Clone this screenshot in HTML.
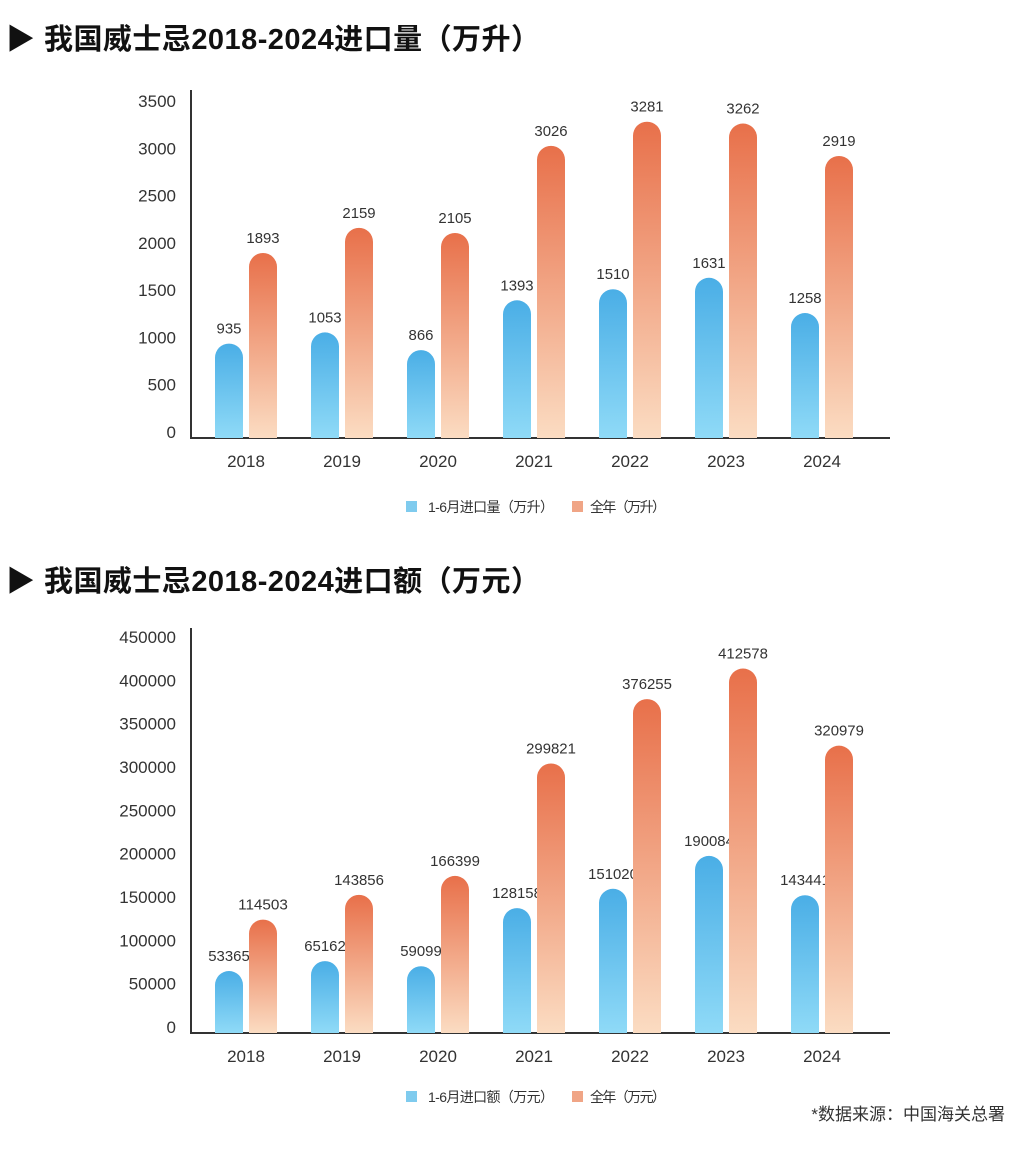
<!DOCTYPE html>
<html><head><meta charset="utf-8">
<style>
body{margin:0;width:1031px;height:1149px;background:#fff;overflow:hidden;font-family:"Liberation Sans","Noto Sans CJK SC",sans-serif;}
svg{position:absolute;left:0;top:0}
</style></head>
<body>
<svg id="s" width="1031" height="1149">
<defs>
<linearGradient id="gb" x1="0" y1="0" x2="0" y2="1"><stop offset="0" stop-color="#4aaee6"/><stop offset="1" stop-color="#8fdaf7"/></linearGradient>
<linearGradient id="go" x1="0" y1="0" x2="0" y2="1"><stop offset="0" stop-color="#e8704a"/><stop offset="1" stop-color="#fbdcc2"/></linearGradient>
</defs>
<text x="6" y="49" font-size="29" font-weight="bold" fill="#111" textLength="534">▶ 我国威士忌2018-2024进口量（万升）</text>
<text x="6" y="591" font-size="29" font-weight="bold" fill="#111" textLength="534">▶ 我国威士忌2018-2024进口额（万元）</text>
<g>
<rect x="406" y="501" width="11" height="11" fill="#7fcbee"/>
<text x="428" y="512" font-size="14" fill="#333" textLength="126">1-6月进口量（万升）</text>
<rect x="572" y="501" width="11" height="11" fill="#f0a586"/>
<text x="590" y="512" font-size="14" fill="#333" textLength="76">全年（万升）</text>
</g>
<g>
<rect x="406" y="1091" width="11" height="11" fill="#7fcbee"/>
<text x="428" y="1102" font-size="14" fill="#333" textLength="126">1-6月进口额（万元）</text>
<rect x="572" y="1091" width="11" height="11" fill="#f0a586"/>
<text x="590" y="1102" font-size="14" fill="#333" textLength="76">全年（万元）</text>
</g>
<text x="1005" y="1120" font-size="17" fill="#333" text-anchor="end">*数据来源：中国海关总署</text>
</svg>
<script>
const years=["2018","2019","2020","2021","2022","2023","2024"];
const volHalf=[935,1053,866,1393,1510,1631,1258];
const volFull=[1893,2159,2105,3026,3281,3262,2919];
const volTicks=[0,500,1000,1500,2000,2500,3000,3500];
const valHalf=[53365,65162,59099,128158,151020,190084,143441];
const valFull=[114503,143856,166399,299821,376255,412578,320979];
const valTicks=[0,50000,100000,150000,200000,250000,300000,350000,400000,450000];
const svg=document.getElementById('s');
const NS='http://www.w3.org/2000/svg';
function mk(tag,attrs,parent){const e=document.createElementNS(NS,tag);for(const k in attrs)e.setAttribute(k,attrs[k]);(parent||svg).appendChild(e);return e;}
function chart(name,half,full,ticks,y0,y1,by0,by1,base,axisTop){
  const max=ticks[ticks.length-1];
  const ys=v=>y0-(v/max)*(y0-y1);
  const bs=v=>by0-(v/max)*(by0-by1);
  const xs=i=>215+96*i;
  const g=mk('g',{});
  
  
  ticks.forEach(t=>{
    const tx=mk('text',{x:176,y:ys(t)+6,'font-size':17,fill:'#333','text-anchor':'end'},g);
    tx.textContent=t;
    
    
  });
  const ax=mk('path',{d:`M191 ${axisTop} V${base} H890`,stroke:'#333','stroke-width':2,fill:'none'},g);
  
  
  years.forEach((yr,i)=>{
    [[half[i],'url(#gb)',0,'bar-half'],[full[i],'url(#go)',34,'bar-full']].forEach(([v,f,dx,n])=>{
      const x=xs(i)+dx, top=bs(v), w=28;
      const b=mk('path',{d:`M${x} ${base} V${top+14} A14 14 0 0 1 ${x+w} ${top+14} V${base} Z`,fill:f},g);
      
      
      const s=String(v);
      const l=mk('text',{x:x+14,y:top-10,'font-size':15,fill:'#333','text-anchor':'middle',textLength:s.length*8.3,lengthAdjust:'spacingAndGlyphs'},g);
      l.textContent=s;
      
      
    });
    const c=mk('text',{x:xs(i)+31,y:base+29,'font-size':17,fill:'#333','text-anchor':'middle'},g);
    c.textContent=yr;
    
    
  });
}
chart('volume-chart',volHalf,volFull,volTicks,432,101,432,101,438,90);
chart('value-chart',valHalf,valFull,valTicks,1027,637,1016,637,1033,628);
</script>
</body></html>
